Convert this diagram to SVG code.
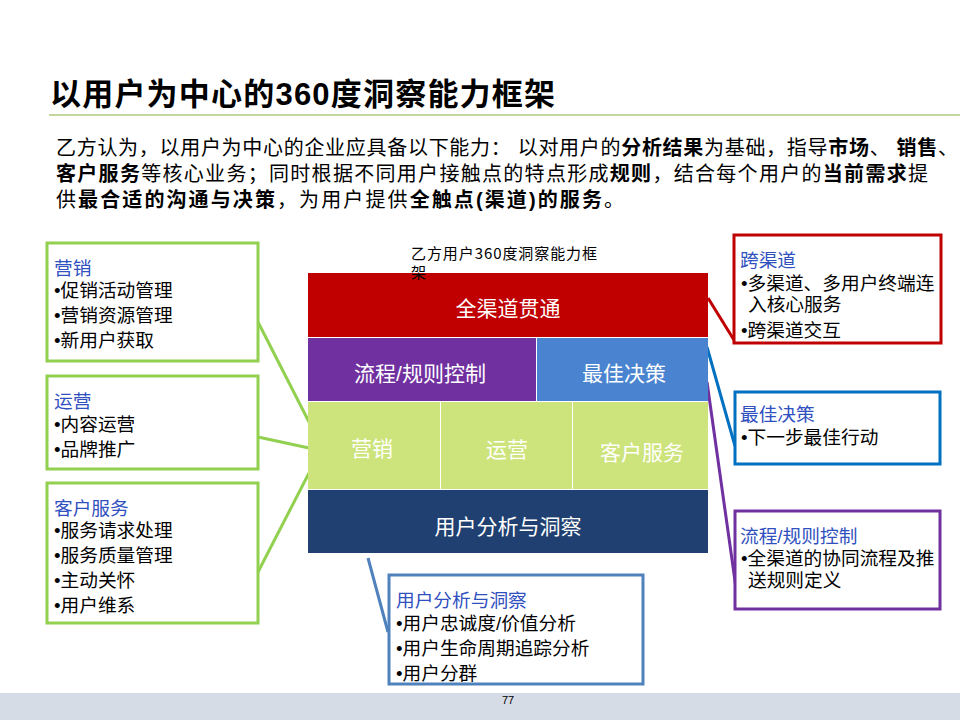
<svg xmlns="http://www.w3.org/2000/svg" width="960" height="720" viewBox="0 0 960 720">
<style>
text{font-family:"Liberation Sans","Noto Sans CJK SC",sans-serif;}
.cjk{font-family:"Noto Sans CJK SC","Liberation Sans",sans-serif;}
.title{font-size:31px;font-weight:bold;fill:#000;}
.para{font-size:20px;fill:#000;}
.b{font-weight:bold;}
.blk{font-size:21px;fill:#fff;text-anchor:middle;}
.bt{font-size:18.7px;fill:#000;}
.hd{fill:#3050c0;}
.box{fill:#fff;stroke-width:3;}
.conn{fill:none;stroke-width:3;}
</style>
<rect x="0" y="0" width="960" height="720" fill="#fff"/>
<text class="title" x="50" y="105" textLength="505">以用户为中心的360度洞察能力框架</text>
<line x1="49" y1="115" x2="960" y2="115" stroke="#c3d69b" stroke-width="2"/>
<text class="para" x="56" y="155" textLength="902">乙方认为，以用户为中心的企业应具备以下能力： 以对用户的<tspan class="b">分析结果</tspan>为基础，指导<tspan class="b">市场</tspan>、 <tspan class="b">销售</tspan>、</text>
<text class="para" x="56" y="181" textLength="872"><tspan class="b">客户服务</tspan>等核心业务；同时根据不同用户接触点的特点形成<tspan class="b">规则</tspan>，结合每个用户的<tspan class="b">当前需求</tspan>提</text>
<text class="para" x="56" y="207" textLength="568">供<tspan class="b">最合适的沟通与决策</tspan>，为用户提供<tspan class="b">全触点(渠道)的服务</tspan>。</text>

<g id="connectors">
<line class="conn" stroke="#92d050" x1="258" y1="322" x2="309" y2="422"/>
<line class="conn" stroke="#92d050" x1="258" y1="437" x2="309" y2="448"/>
<line class="conn" stroke="#92d050" x1="258" y1="572" x2="309" y2="473"/>
<line class="conn" stroke="#c00000" x1="708" y1="298" x2="734" y2="340"/>
<line class="conn" stroke="#0070c0" x1="707" y1="347" x2="735" y2="446"/>
<line class="conn" stroke="#7030a0" x1="707" y1="382" x2="736" y2="588"/>
<line class="conn" stroke="#4f81bd" x1="368" y1="558" x2="388" y2="632"/>
</g>

<g id="framework">
<text class="cjk" x="411" y="259" font-size="15" textLength="186" fill="#000">乙方用户360度洞察能力框</text>
<rect x="308" y="273" width="400" height="64" fill="#c00000"/>
<rect x="308" y="338" width="228" height="63" fill="#7030a0"/>
<rect x="537" y="338" width="171" height="63" fill="#4a84d0"/>
<rect x="308" y="402" width="132" height="87" fill="#cde47c"/>
<rect x="441" y="402" width="131" height="87" fill="#cde47c"/>
<rect x="573" y="402" width="135" height="87" fill="#cde47c"/>
<rect x="308" y="490" width="400" height="63" fill="#1f4070"/>
<text class="cjk" x="411" y="278" font-size="15" fill="#000">架</text>
<text class="blk" x="508" y="316">全渠道贯通</text>
<text class="blk" x="420" y="381">流程/规则控制</text>
<text class="blk" x="624" y="381">最佳决策</text>
<text class="blk" x="372" y="456">营销</text>
<text class="blk" x="507" y="457">运营</text>
<text class="blk" x="642" y="460">客户服务</text>
<text class="blk" x="508" y="534">用户分析与洞察</text>
</g>

<g id="box-marketing">
<rect class="box" stroke="#92d050" x="47" y="243" width="211" height="118"/>
<text class="bt hd" x="54" y="275">营销</text>
<text class="bt" x="54" y="297">•促销活动管理</text>
<text class="bt" x="54" y="322">•营销资源管理</text>
<text class="bt" x="54" y="347">•新用户获取</text>
</g>
<g id="box-operation">
<rect class="box" stroke="#92d050" x="47" y="376" width="211" height="93"/>
<text class="bt hd" x="54" y="408">运营</text>
<text class="bt" x="54" y="431">•内容运营</text>
<text class="bt" x="54" y="456">•品牌推广</text>
</g>
<g id="box-service">
<rect class="box" stroke="#92d050" x="47" y="483" width="211" height="140"/>
<text class="bt hd" x="54" y="515">客户服务</text>
<text class="bt" x="54" y="537">•服务请求处理</text>
<text class="bt" x="54" y="562">•服务质量管理</text>
<text class="bt" x="54" y="587">•主动关怀</text>
<text class="bt" x="54" y="612">•用户维系</text>
</g>
<g id="box-crosschannel">
<rect class="box" stroke="#c00000" x="734" y="235" width="207" height="108"/>
<text class="bt hd" x="740" y="267">跨渠道</text>
<text class="bt" x="741" y="290">•多渠道、多用户终端连</text>
<text class="bt" x="748" y="311">入核心服务</text>
<text class="bt" x="741" y="337">•跨渠道交互</text>
</g>
<g id="box-decision">
<rect class="box" stroke="#0070c0" x="735" y="392" width="205" height="72"/>
<text class="bt hd" x="740" y="421">最佳决策</text>
<text class="bt" x="741" y="444">•下一步最佳行动</text>
</g>
<g id="box-process">
<rect class="box" stroke="#7030a0" x="735" y="511" width="205" height="98"/>
<text class="bt hd" x="740" y="543">流程/规则控制</text>
<text class="bt" x="741" y="565">•全渠道的协同流程及推</text>
<text class="bt" x="748" y="587">送规则定义</text>
</g>
<g id="box-analysis">
<rect class="box" stroke="#4f81bd" x="389" y="575" width="254" height="109"/>
<text class="bt hd" x="396" y="607">用户分析与洞察</text>
<text class="bt" x="396" y="630">•用户忠诚度/价值分析</text>
<text class="bt" x="396" y="655">•用户生命周期追踪分析</text>
<text class="bt" x="396" y="680">•用户分群</text>
</g>

<rect x="0" y="693" width="960" height="27" fill="#d6dce5"/>
<text x="508" y="704" font-size="11" fill="#000" text-anchor="middle">77</text>
</svg>
